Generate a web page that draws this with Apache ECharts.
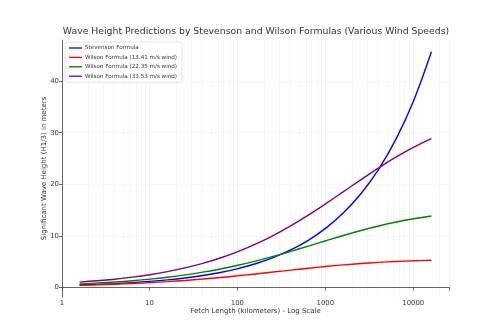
<!DOCTYPE html>
<html>
<head>
<meta charset="utf-8">
<script src="https://cdn.jsdelivr.net/npm/echarts@6/dist/echarts.min.js"></script>
<style>
html,body{margin:0;padding:0;background:#fff;}
#c{width:500px;height:333px;}
</style>
</head>
<body>
<div id="c"></div>
<script>
// Fetch lengths (km)
const fetchKm = [1.609, 2.551, 4.042, 6.407, 10.15, 16.09, 25.51, 40.42, 64.07, 101.5, 160.9, 255.1, 404.2, 640.7, 1015, 1609, 2551, 4042, 6407, 10154, 16093];
// Significant wave heights (m)
const stevenson = [0.4572, 0.5756, 0.7246, 0.9123, 1.148, 1.446, 1.820, 2.291, 2.885, 3.632, 4.572, 5.756, 7.246, 9.123, 11.48, 14.46, 18.20, 22.91, 28.85, 36.32, 45.72];
const wilson1341 = [0.3902, 0.4844, 0.5994, 0.7386, 0.9056, 1.104, 1.335, 1.602, 1.902, 2.234, 2.590, 2.961, 3.335, 3.699, 4.040, 4.348, 4.614, 4.836, 5.014, 5.152, 5.255];
const wilson2235 = [0.6646, 0.8295, 1.033, 1.284, 1.590, 1.961, 2.407, 2.938, 3.561, 4.280, 5.094, 5.997, 6.973, 7.997, 9.038, 10.06, 11.02, 11.90, 12.67, 13.31, 13.83];
const wilson3353 = [1.008, 1.262, 1.577, 1.968, 2.450, 3.042, 3.763, 4.637, 5.685, 6.927, 8.379, 10.05, 11.93, 14.01, 16.24, 18.56, 20.90, 23.17, 25.30, 27.22, 28.88];
const seriesNames = ['Stevenson Formula', 'Wilson Formula (13.41 m/s wind)', 'Wilson Formula (22.35 m/s wind)', 'Wilson Formula (33.53 m/s wind)'];
const seriesColors = ['#0000ff', '#ff0000', '#008000', '#800080'];
const yTicks = [0, 10, 20, 30, 40];
const minorGridValues = [2,3,4,5,6,7,8,9,20,30,40,50,60,70,80,90,200,300,400,500,600,700,800,900,2000,3000,4000,5000,6000,7000,8000,9000,20000];

const allData = [stevenson, wilson1341, wilson2235, wilson3353];
const font = 'DejaVu Sans';

const series = allData.map((arr, i) => ({
  name: seriesNames[i],
  type: 'line',
  data: fetchKm.map((x, j) => [x, arr[j]]),
  smooth: 0.4,
  showSymbol: false,
  lineStyle: {color: seriesColors[i], width: 1.4},
  itemStyle: {color: seriesColors[i]},
  z: 3,
  markLine: i === 0 ? {
    silent: true, symbol: 'none', label: {show: false},
    lineStyle: {color: '#f2f2f2', width: 0.8, type: 'solid'},
    data: minorGridValues.map(v => ({xAxis: v})),
    z: 0
  } : undefined
}));

const chart = echarts.init(document.getElementById('c'), null, {renderer: 'canvas'});
chart.setOption({
  animation: false,
  backgroundColor: '#fff',
  title: {
    text: 'Wave Height Predictions by Stevenson and Wilson Formulas (Various Wind Speeds)',
    left: 256, top: 27, textAlign: 'center', padding: 0,
    textStyle: {fontFamily: font, fontSize: 9.3, fontWeight: 'normal', color: '#333'}
  },
  legend: {
    orient: 'vertical', left: 65, top: 42,
    itemWidth: 13, itemHeight: 1.3, itemGap: 3.4,
    padding: [3, 5, 3, 4],
    backgroundColor: 'rgba(255,255,255,0.85)',
    borderColor: '#ddd', borderWidth: 0.8, borderRadius: 2,
    icon: 'rect',
    textStyle: {fontFamily: font, fontSize: 5.6, color: '#333', padding: [0,0,0,-2]},
    data: seriesNames
  },
  grid: {left: 62, right: 51, top: 40, bottom: 36, containLabel: false},
  xAxis: {
    type: 'log', logBase: 10, min: 1.015, max: 25510,
    name: 'Fetch Length (kilometers) - Log Scale',
    nameLocation: 'middle', nameGap: 11, nameMoveOverlap: false,
    nameTextStyle: {fontFamily: font, fontSize: 7, color: '#333', verticalAlign: 'top'},
    axisLine: {lineStyle: {color: '#444', width: 0.8}},
    axisTick: {show: true, length: 3, lineStyle: {color: '#444', width: 0.8}},
    axisLabel: {
      fontFamily: font, fontSize: 6.9, color: '#333', margin: 3,
      formatter: v => {
        const l = Math.log10(v);
        return Math.abs(l - Math.round(l)) < 0.02 ? String(Math.round(Math.pow(10, Math.round(l)))) : '';
      }
    },
    splitLine: {show: true, lineStyle: {color: '#eeeeee', width: 0.8}}
  },
  yAxis: {
    type: 'value', min: -1.88, max: 48,
    name: 'Significant Wave Height (H1/3) in meters',
    nameLocation: 'middle', nameGap: 14, nameMoveOverlap: false,
    nameTextStyle: {fontFamily: font, fontSize: 7, color: '#333'},
    axisLine: {show: true, lineStyle: {color: '#444', width: 0.8}},
    axisTick: {show: true, length: 3, customValues: yTicks, lineStyle: {color: '#444', width: 0.8}},
    axisLabel: {
      fontFamily: font, fontSize: 6.9, color: '#333', margin: 3, customValues: yTicks
    },
    splitLine: {show: true, lineStyle: {color: '#f4f4f4', width: 0.8}}
  },
  series: series
});
</script>
</body>
</html>
